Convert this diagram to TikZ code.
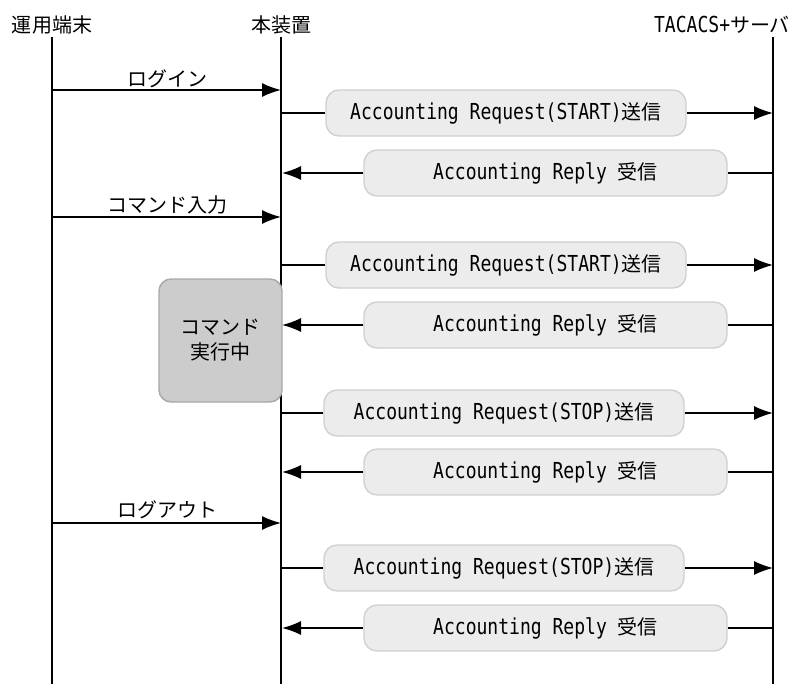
\documentclass[tikz,border=0pt]{standalone}
\usepackage{fontspec}
\setmainfont{Noto Sans CJK JP}
\newfontfamily\latfont[FakeStretch=0.82]{DejaVu Sans Mono}
\newcommand{\lt}[1]{{\fontsize{22}{24}\latfont #1}}
\usetikzlibrary{arrows.meta}
\definecolor{boxfill}{HTML}{ECECEC}
\definecolor{boxline}{HTML}{D0D0D0}
\definecolor{cmdfill}{HTML}{CCCCCC}
\definecolor{cmdline}{HTML}{A8A8A8}
\begin{document}
\begin{tikzpicture}[x=1pt,y=-1pt,
  txt/.style={font=\fontsize{20}{25}\selectfont, inner sep=0pt, anchor=center},
  life/.style={line width=1.5pt},
  plain/.style={line width=1.4pt},
  arr/.style={line width=1.5pt, -{Latex[length=19pt,width=14pt]}},
  req/.style={draw=boxline, fill=boxfill, line width=1.4pt, rounded corners=13pt,
    minimum width=360pt, minimum height=46pt, inner sep=0pt, font=\fontsize{20}{25}\selectfont},
  rep/.style={req, minimum width=363pt},
  cmd/.style={draw=cmdline, fill=cmdfill, line width=1.4pt, rounded corners=12pt,
    minimum width=123pt, minimum height=123pt, inner sep=0pt, align=center,
    font=\fontsize{20}{25}\selectfont}]
\useasboundingbox (0,0) rectangle (791,684);

% headers
\node[txt] (hA) at (52,25) {運用端末};
\node[txt] (hB) at (281,25) {本装置};
\node[txt] (hC) at (722,25) {\lt{TACACS+}サーバ};

% lifeline ends
\coordinate (a0) at (52,37);   \coordinate (aE) at (52,684);
\coordinate (b0) at (281,37);  \coordinate (bE) at (281,684);
\coordinate (c0) at (773,37);  \coordinate (cE) at (773,684);
\draw[life] (a0) -- (aE);
\draw[life] (b0) -- (bE);
\draw[life] (c0) -- (cE);

% terminal -> device messages
\coordinate (m1a) at (52,90);  \coordinate (m1b) at (281,90);
\coordinate (m2a) at (52,217); \coordinate (m2b) at (281,217);
\coordinate (m3a) at (52,523); \coordinate (m3b) at (281,523);
\draw[arr] (m1a) -- (m1b);
\draw[arr] (m2a) -- (m2b);
\draw[arr] (m3a) -- (m3b);
\node[txt] (l1) at (167,79) {ログイン};
\node[txt] (l2) at (167,205) {コマンド入力};
\node[txt] (l3) at (167,510) {ログアウト};

% command execution box
\node[cmd] (cx) at (220.5,340.5) {コマンド\\実行中};

% requests (device -> server)
\foreach \i/\y/\c/\t in {1/113/506/START, 2/265/506/START, 3/413/504/STOP, 4/568/504/STOP}{
  \coordinate (qb\i) at (281,\y);
  \coordinate (qc\i) at (773,\y);
  \node[req] (q\i) at (\c,\y) {\lt{Accounting Request(\t)}送信};
  \draw[plain] (qb\i) -- (q\i);
  \draw[arr] (q\i) -- (qc\i);
}

% replies (server -> device)
\foreach \i/\y in {1/173, 2/325, 3/472, 4/628}{
  \coordinate (pb\i) at (282,\y);
  \coordinate (pc\i) at (773,\y);
  \node[rep] (p\i) at (545.5,\y) {\lt{Accounting Reply }受信};
  \draw[plain] (pc\i) -- (p\i);
  \draw[arr] (p\i) -- (pb\i);
}
\end{tikzpicture}
\end{document}
